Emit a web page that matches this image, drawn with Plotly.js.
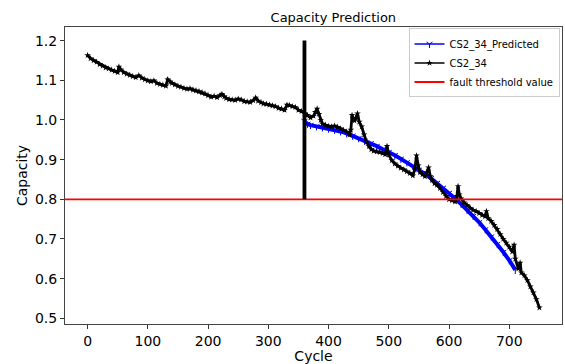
<!DOCTYPE html>
<html>
<head>
<meta charset="utf-8">
<script src="https://cdn.plot.ly/plotly-3.0.1.min.js"></script>
<style>html,body{margin:0;padding:0;background:#fff;}#chart{width:565px;height:364px;}</style>
</head>
<body>
<div id="chart"></div>
<script>
// Measured CS2_34 capacity
const actualCycles = [0,5,10,15,20,25,30,35,40,45,50,52,55,60,65,70,75,80,85,90,95,100,105,110,115,120,125,130,133,137,140,145,150,155,160,165,170,175,180,185,190,195,200,205,210,215,220,223,227,230,235,240,245,250,255,260,265,270,275,279,283,288,292,297,302,307,312,317,322,327,331,335,340,345,350,355,360,365,370,375,378,381,384,387,390,395,400,405,410,415,420,425,430,435,437,439,441,443,445,448,451,455,459,463,467,471,475,480,485,490,494,497,500,505,510,515,520,525,530,535,540,543,546,549,552,556,560,563,566,569,572,576,580,585,590,595,600,605,610,613,615,617,620,625,630,635,640,645,650,655,660,662,665,670,675,680,685,690,695,700,705,708,710,715,718,720,725,730,735,740,745,750];
const actualCapacity = [1.163,1.155,1.150,1.146,1.140,1.136,1.132,1.129,1.126,1.123,1.120,1.134,1.127,1.120,1.116,1.113,1.110,1.107,1.112,1.106,1.102,1.099,1.097,1.099,1.093,1.090,1.088,1.086,1.102,1.096,1.093,1.089,1.085,1.083,1.080,1.078,1.079,1.076,1.074,1.072,1.069,1.066,1.062,1.058,1.060,1.057,1.062,1.065,1.059,1.055,1.052,1.051,1.050,1.053,1.051,1.047,1.046,1.045,1.049,1.056,1.048,1.044,1.041,1.040,1.038,1.036,1.034,1.030,1.028,1.025,1.038,1.037,1.034,1.032,1.025,1.022,1.017,1.012,1.006,1.010,1.020,1.028,1.015,1.000,0.990,0.987,0.984,0.983,0.985,0.982,0.978,0.974,0.970,0.963,0.975,1.012,1.003,0.998,1.005,1.016,0.995,0.983,0.963,0.945,0.934,0.926,0.922,0.920,0.919,0.916,0.913,0.934,0.912,0.898,0.890,0.884,0.879,0.875,0.870,0.866,0.860,0.875,0.910,0.885,0.868,0.863,0.858,0.868,0.880,0.858,0.848,0.840,0.836,0.828,0.818,0.808,0.800,0.797,0.794,0.808,0.833,0.812,0.802,0.792,0.785,0.778,0.773,0.770,0.765,0.760,0.757,0.770,0.752,0.745,0.735,0.725,0.712,0.700,0.690,0.680,0.668,0.685,0.650,0.625,0.640,0.615,0.608,0.596,0.580,0.565,0.548,0.527];
// Predicted capacity (from the split cycle)
const predCycles = [360,365,370,380,390,400,410,420,430,440,450,460,470,480,490,500,510,520,530,540,550,560,570,580,590,600,610,620,630,640,650,660,670,680,690,700,710];
const predCapacity = [0.997,0.990,0.987,0.984,0.981,0.978,0.975,0.971,0.966,0.960,0.954,0.947,0.941,0.934,0.926,0.919,0.911,0.902,0.893,0.884,0.874,0.864,0.853,0.841,0.829,0.816,0.802,0.788,0.773,0.758,0.742,0.724,0.706,0.687,0.667,0.646,0.622];
const threshold = 0.8;
const splitCycle = 360;
const splitSpan = [0.8, 1.2];
const xRange = [-37.5, 787.5];
const yRange = [0.4857, 1.2343];
const xTicks = [0,100,200,300,400,500,600,700];
const yTicks = [0.5,0.6,0.7,0.8,0.9,1.0,1.1,1.2];
const yTickText = ['0.5','0.6','0.7','0.8','0.9','1.0','1.1','1.2'];

const traces = [
  {x: predCycles, y: predCapacity, name: 'CS2_34_Predicted', mode: 'lines+markers', showlegend: false,
   line: {color: '#0000ff', width: 4}, marker: {symbol: 'y-down', size: 5, color: '#0000ff', line: {color: '#0000ff', width: 1}}},
  {x: actualCycles, y: actualCapacity, name: 'CS2_34', mode: 'lines+markers', showlegend: false,
   line: {color: '#000000', width: 2.8}, marker: {symbol: 'star', size: 5, color: '#000000'}},
  {x: xRange, y: [threshold, threshold], name: 'fault threshold value', mode: 'lines', legendrank: 3,
   line: {color: '#ff0000', width: 1.8}},
  {x: [splitCycle, splitCycle], y: splitSpan, mode: 'lines', showlegend: false,
   line: {color: '#000000', width: 3.8}},
  // legend-only entries with thin line samples, like the reference legend
  {x: [null], y: [null], name: 'CS2_34_Predicted', mode: 'lines+markers', legendrank: 1,
   line: {color: '#0000ff', width: 1.5}, marker: {symbol: 'y-down', size: 5, color: '#0000ff', line: {color: '#0000ff', width: 1}}},
  {x: [null], y: [null], name: 'CS2_34', mode: 'lines+markers', legendrank: 2,
   line: {color: '#000000', width: 1.5}, marker: {symbol: 'star', size: 5, color: '#000000'}}
];

const font = {family: 'DejaVu Sans, sans-serif', color: '#000'};
const layout = {
  width: 565, height: 364,
  margin: {l: 65, r: 3, t: 27, b: 40},
  paper_bgcolor: '#fff', plot_bgcolor: '#fff',
  font: font,
  showlegend: true,
  title: {text: 'Capacity Prediction', font: {family: font.family, size: 13, color: '#000'}, x: 0.59, xanchor: 'center', y: 0.953, yanchor: 'middle'},
  xaxis: {range: xRange, tickvals: xTicks, ticks: 'outside', ticklen: 4, tickcolor: '#333',
    showline: true, linecolor: '#444', linewidth: 1, mirror: true, showgrid: false, zeroline: false,
    tickfont: {family: font.family, size: 14, color: '#000'},
    title: {text: 'Cycle', font: {family: font.family, size: 14, color: '#000'}, standoff: 2}},
  yaxis: {range: yRange, tickvals: yTicks, ticktext: yTickText, ticks: 'outside', ticklen: 4, tickcolor: '#333',
    showline: true, linecolor: '#444', linewidth: 1, mirror: true, showgrid: false, zeroline: false,
    tickfont: {family: font.family, size: 14, color: '#000'},
    title: {text: 'Capacity', font: {family: font.family, size: 14, color: '#000'}, standoff: 4}},
  legend: {x: 0.995, xanchor: 'right', y: 0.995, yanchor: 'top', bgcolor: 'rgba(255,255,255,0.9)',
    bordercolor: '#cccccc', borderwidth: 1, font: {family: font.family, size: 10, color: '#000'},
    tracegroupgap: 0, itemwidth: 30, traceorder: 'normal'}
};
Plotly.newPlot('chart', traces, layout, {displayModeBar: false, staticPlot: true});
</script>
</body>
</html>
